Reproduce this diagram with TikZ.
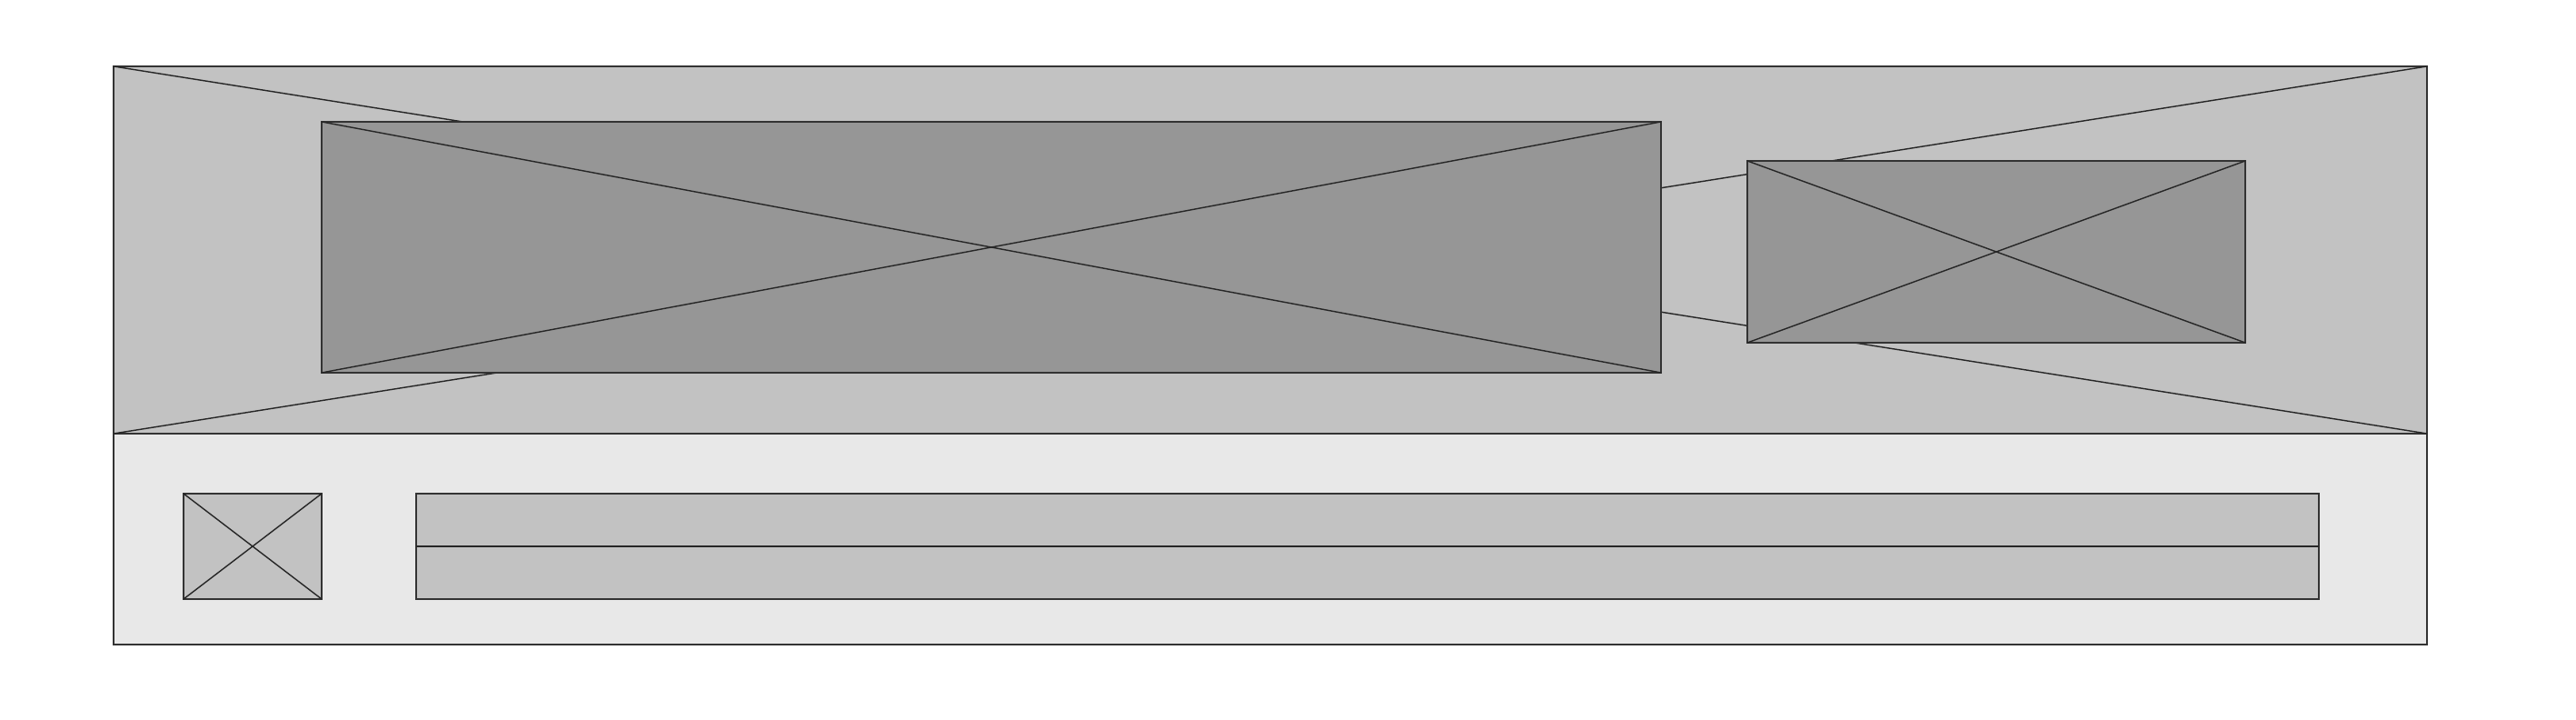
\documentclass[tikz,border=0pt]{standalone}
\usepackage{tikz}
\usetikzlibrary{positioning}

\begin{document}
\begin{tikzpicture}[line width=0.4pt]
		\useasboundingbox (0,0) rectangle (28.35,7.92);
		% panels
		\draw[black!80,fill=black!24] (1.25,3.15) rectangle (26.71,7.19);
		\draw[black!80,fill=black!9] (1.25,0.83) rectangle (26.71,3.15);
		\draw[black!85] (1.25,7.19) -- (26.71,3.15);
		\draw[black!85] (1.25,3.15) -- (26.71,7.19);
		% picture boxes
		\draw[black!80,fill=black!41] (3.54,3.82) rectangle (18.28,6.58);
		\draw[black!80,fill=black!41] (19.23,4.15) rectangle (24.71,6.15);
		\draw[black!80,fill=black!24] (2.02,1.33) rectangle (3.54,2.49);
		\foreach \xa/\ya/\xb/\yb in {3.54/3.82/18.28/6.58, 19.23/4.15/24.71/6.15, 2.02/1.33/3.54/2.49}
		{
			\draw[black!85] (\xa,\ya) -- (\xb,\yb);
			\draw[black!85] (\xa,\yb) -- (\xb,\ya);
		}
		% text bar
		\draw[black!80,fill=black!24] (4.58,1.33) rectangle (25.52,2.49);
		\draw[black!85] (4.58,1.91) -- (25.52,1.91);
	\end{tikzpicture}
\end{document}
